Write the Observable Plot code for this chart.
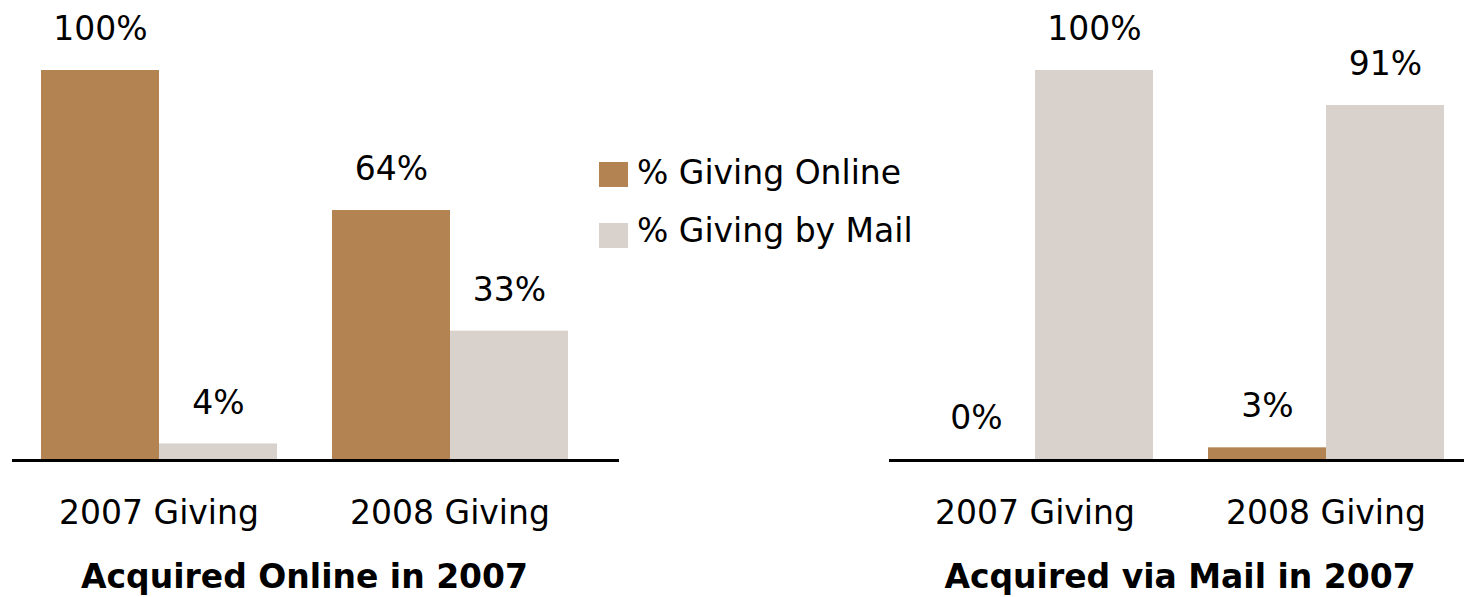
<!DOCTYPE html>
<html>
<head>
<meta charset="utf-8">
<script src="https://cdn.jsdelivr.net/npm/d3@7"></script>
<script src="https://cdn.jsdelivr.net/npm/@observablehq/plot@0.6"></script>
<style>
  html, body { margin: 0; padding: 0; background: #fff; }
  #root { position: relative; width: 1464px; height: 597px; overflow: hidden; font-family: "DejaVu Sans", sans-serif; color: #000; }
  .panel { position: absolute; top: 0; }
  .title { position: absolute; font-weight: bold; font-size: 33px; line-height: 33px; text-align: center; white-space: nowrap; }
  .sw { position: absolute; width: 29px; height: 25px; }
  .lt { position: absolute; font-size: 33px; line-height: 33px; white-space: nowrap; }
</style>
</head>
<body>
<div id="root"></div>
<script>
// ---- data ----
const groups = ["2007 Giving", "2008 Giving"];
const seriesNames = ["% Giving Online", "% Giving by Mail"];
const seriesColors = ["#B38352", "#D9D1CB"];
const panelTitles = ["Acquired Online in 2007", "Acquired via Mail in 2007"];
const acquiredOnlineGivingOnline = [100, 64];
const acquiredOnlineGivingMail = [4, 33];
const acquiredMailGivingOnline = [0, 3];
const acquiredMailGivingMail = [100, 91];

const root = document.getElementById("root");

function makeData(onlineVals, mailVals) {
  return groups.flatMap((g, i) => [
    {group: g, series: seriesNames[0], value: onlineVals[i]},
    {group: g, series: seriesNames[1], value: mailVals[i]}
  ]);
}

function panel(onlineVals, mailVals, o) {
  const data = makeData(onlineVals, mailVals);
  return Plot.plot({
    width: o.width,
    height: 597,
    marginTop: 70,
    marginBottom: 138,
    marginLeft: 40,
    marginRight: o.marginRight,
    style: {fontFamily: "DejaVu Sans", fontSize: "33px", color: "#000", background: "transparent", overflow: "hidden"},
    fx: {domain: groups, paddingInner: 0.184, paddingOuter: 0, axis: "bottom", tickSize: 0, tickPadding: 41, label: null},
    x: {domain: seriesNames, padding: 0, axis: null},
    y: {domain: [0, 100], axis: null},
    color: {domain: seriesNames, range: seriesColors},
    marks: [
      Plot.barY(data, {fx: "group", x: "series", y: "value", fill: "series"}),
      Plot.ruleY([0], {stroke: "#000", strokeWidth: 3, dy: 1, shapeRendering: "crispEdges", insetLeft: o.insetLeft, insetRight: o.insetRight}),
      Plot.text(data, {fx: "group", x: "series", y: "value", text: d => d.value + "%", dy: -41, fontSize: 33, fill: "#000"})
    ]
  });
}

const left = panel(acquiredOnlineGivingOnline, acquiredOnlineGivingMail, {width: 640, marginRight: 71, insetLeft: -28, insetRight: -51});
left.classList.add("panel");
left.style.left = "0px";
root.appendChild(left);

const right = panel(acquiredMailGivingOnline, acquiredMailGivingMail, {width: 589, marginRight: 19, insetLeft: -27, insetRight: -40});
right.classList.add("panel");
right.style.left = "875px";
root.appendChild(right);

// panel titles (below each chart)
[[40, 529], [915, 530]].forEach(([l, w], i) => {
  const t = document.createElement("div");
  t.className = "title";
  t.style.left = l + "px";
  t.style.width = w + "px";
  t.style.top = "560px";
  t.textContent = panelTitles[i];
  root.appendChild(t);
});

// legend
const swTops = [162, 223];
const txTops = [156, 214];
seriesNames.forEach((s, i) => {
  const sw = document.createElement("div");
  sw.className = "sw";
  sw.style.left = "599px";
  sw.style.top = swTops[i] + "px";
  sw.style.background = seriesColors[i];
  root.appendChild(sw);
  const tx = document.createElement("div");
  tx.className = "lt";
  tx.style.left = "637px";
  tx.style.top = txTops[i] + "px";
  tx.textContent = s;
  root.appendChild(tx);
});
</script>
</body>
</html>
